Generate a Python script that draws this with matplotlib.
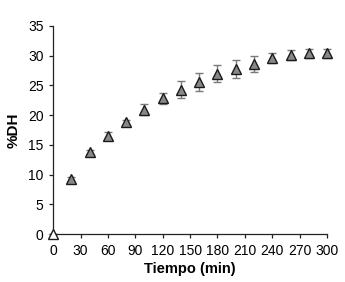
import matplotlib
matplotlib.use("Agg")
import matplotlib.pyplot as plt

time_min = [0, 20, 40, 60, 80, 100, 120, 140, 160, 180, 200, 220, 240, 260, 280, 300]
dh = [0.0, 9.2, 13.8, 16.5, 18.8, 20.9, 22.8, 24.3, 25.6, 27.0, 27.8, 28.6, 29.6, 30.1, 30.4, 30.4]
dh_err = [0.0, 0.4, 0.4, 0.6, 0.4, 0.9, 1.0, 1.4, 1.5, 1.5, 1.5, 1.4, 0.9, 0.9, 0.8, 0.8]
xticks = [0, 30, 60, 90, 120, 150, 180, 210, 240, 270, 300]
yticks = [0, 5, 10, 15, 20, 25, 30, 35]

plt.rcParams['font.family'] = ['Liberation Sans', 'DejaVu Sans']
fig = plt.figure(figsize=(3.45, 2.82), dpi=100)
ax = fig.add_axes([0.154, 0.170, 0.794, 0.738])

ax.errorbar(time_min, dh, yerr=dh_err, fmt='none', ecolor='#7a7a7a', elinewidth=1.0,
            capsize=3, capthick=1.0, zorder=2, clip_on=False)
ax.plot(time_min[1:], dh[1:], linestyle='none', marker='^', markersize=6.5,
        markerfacecolor='#888888', markeredgecolor='#1a1a1a', markeredgewidth=1.0,
        zorder=3, clip_on=False)
ax.plot(time_min[:1], dh[:1], linestyle='none', marker='^', markersize=6.5,
        markerfacecolor='white', markeredgecolor='#1a1a1a', markeredgewidth=1.0,
        zorder=3, clip_on=False)

ax.set_xlim(0, 300)
ax.set_ylim(0, 35)
ax.set_xticks(xticks)
ax.set_yticks(yticks)
ax.spines['top'].set_visible(False)
ax.spines['right'].set_visible(False)
for s in ['left', 'bottom']:
    ax.spines[s].set_linewidth(0.9)
    ax.spines[s].set_color('#222222')
ax.tick_params(direction='out', length=3, width=0.9, labelsize=10, colors='#222222')
ax.tick_params(axis='x', pad=4)
ax.tick_params(axis='y', pad=4)
ax.tick_params(labelcolor='black')
ax.set_xlabel('Tiempo (min)', fontsize=10.5, fontweight='bold', labelpad=3)
ax.set_ylabel('%DH', fontsize=11, fontweight='bold', labelpad=5)

fig.savefig('out.png', dpi=100)
